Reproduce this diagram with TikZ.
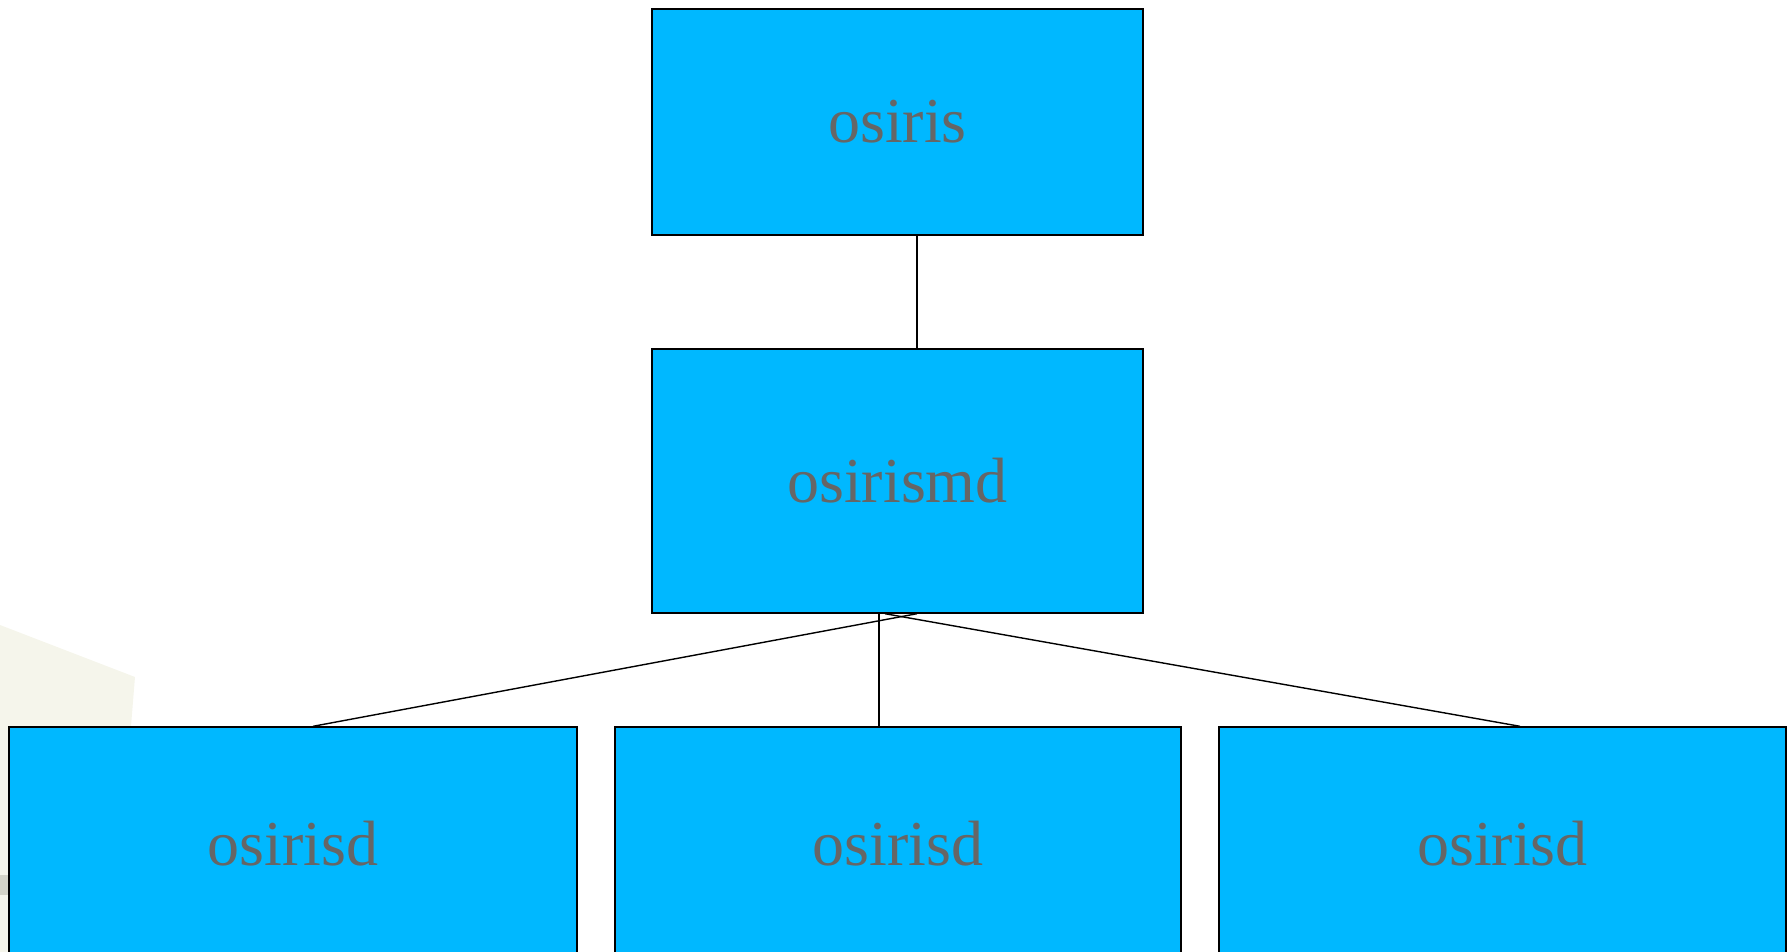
\documentclass[tikz,border=0pt]{standalone}
\usepackage{fontspec}
\setmainfont{Liberation Serif}
\definecolor{boxblue}{RGB}{0,184,255}
\definecolor{txtgray}{RGB}{102,102,102}
\definecolor{beige}{RGB}{245,245,235}
\definecolor{beigegray}{RGB}{212,212,200}
\tikzset{
  unitbox/.style={draw=black, line width=1.4pt, fill=boxblue, inner sep=0pt,
    text=txtgray, font=\fontsize{64}{64}\selectfont},
  link/.style={draw=black, line width=1.4pt}
}
\begin{document}
\begin{tikzpicture}[x=1pt,y=-1pt]
\useasboundingbox (0,0) rectangle (1788,952);
% background decoration
\fill[beige] (0,625) -- (135,677) -- (125,800) -- (0,952) -- cycle;
\fill[beige] (0,727) rectangle (12,952);
\fill[beigegray] (0,875) rectangle (12,895);
% nodes
\node[unitbox, minimum width=491pt, minimum height=226pt] (top) at (897.5,122) {osiris};
\node[unitbox, minimum width=491pt, minimum height=264pt] (mid) at (897.5,481) {osirismd};
\node[unitbox, minimum width=568pt, minimum height=234pt] (b1) at (293,844) {osirisd};
\node[unitbox, minimum width=566pt, minimum height=234pt] (b2) at (898,844) {osirisd};
\node[unitbox, minimum width=567pt, minimum height=234pt] (b3) at (1502.5,844) {osirisd};
% connector anchor columns
\coordinate (c1) at (917,0);
\coordinate (c2) at (313,0);
\coordinate (c3) at (879,0);
\coordinate (c4) at (885,0);
\coordinate (c5) at (1520,0);
% connectors
\draw[link] (top.south -| c1) -- (mid.north -| c1);
\draw[link] (mid.south -| c1) -- (b1.north -| c2);
\draw[link] (mid.south -| c3) -- (b2.north -| c3);
\draw[link] (mid.south -| c4) -- (b3.north -| c5);
\end{tikzpicture}
\end{document}
